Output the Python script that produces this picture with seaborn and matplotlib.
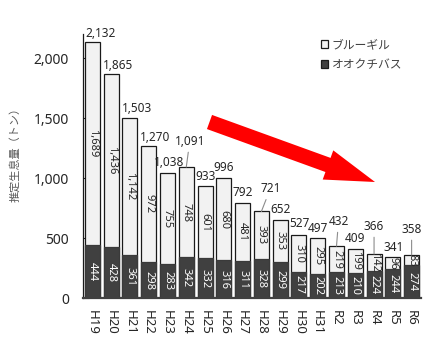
import matplotlib
matplotlib.use("Agg")
import matplotlib.pyplot as plt
import numpy as np
import pandas as pd
import seaborn as sns
from matplotlib.patches import Patch, FancyArrow
from matplotlib.ticker import FuncFormatter

# 年度
years = ["H19", "H20", "H21", "H22", "H23", "H24", "H25", "H26", "H27",
         "H28", "H29", "H30", "H31", "R2", "R3", "R4", "R5", "R6"]
# オオクチバス推定生息量（トン）
bass = [444, 428, 361, 298, 283, 342, 332, 316, 311,
        328, 299, 217, 202, 213, 210, 224, 244, 274]
# ブルーギル推定生息量（トン）
bluegill = [1689, 1436, 1142, 972, 755, 748, 601, 680, 481,
            393, 353, 310, 295, 219, 199, 142, 96, 83]
# 合計
totals = [2132, 1865, 1503, 1270, 1038, 1091, 933, 996, 792,
          721, 652, 527, 497, 432, 409, 366, 341, 358]

# 合計ラベルの位置（棒の上端からのずれ, px）と引き出し線の有無
label_offsets = [(8.5, 9), (6.5, 9), (7, 9), (6.5, 8), (2, 11), (3.5, 26),
                 (0.5, 10), (0, 11), (0, 10), (9, 23), (0, 10), (0, 11),
                 (0, 10), (2, 25), (0, 10), (0, 28), (1, 10), (0, 26)]
leaders = [False, False, False, False, False, True, False, False, False,
           True, False, False, False, True, False, True, False, True]

sns.set_style("white")
plt.rcParams["font.family"] = ["Noto Sans", "Noto Sans CJK JP", "DejaVu Sans"]

LIGHT = "#f2f2f2"
DARK = "#404040"
TXT = "#262626"

fig = plt.figure(figsize=(4.34, 3.4), dpi=100)
ax = fig.add_axes([83 / 434, 1 - 298 / 340, 338 / 434, 264 / 340])

df = pd.DataFrame({"year": years, "bass": bass,
                   "bluegill": bluegill, "total": totals})

sns.barplot(data=df, x="year", y="total", color=LIGHT, saturation=1,
            edgecolor="#1a1a1a", linewidth=0.9, width=0.8,
            errorbar=None, ax=ax)
sns.barplot(data=df, x="year", y="bass", color=DARK, saturation=1,
            edgecolor="#3a3a3a", linewidth=0.9, width=0.8,
            errorbar=None, ax=ax)

# 内訳ラベル
for i in range(len(years)):
    ax.text(i, bass[i] / 2, f"{bass[i]:,}", rotation=270, ha="center",
            va="center", fontsize=8, color="white")
    ax.text(i, bass[i] + bluegill[i] / 2, f"{bluegill[i]:,}", rotation=270,
            ha="center", va="center", fontsize=8, color=TXT)

# 合計ラベル
for i in range(len(years)):
    dx, dy = label_offsets[i]
    props = None
    if leaders[i]:
        props = dict(arrowstyle="-", color="#8c8c8c", lw=0.8,
                     shrinkA=1, shrinkB=0)
    ax.annotate(f"{totals[i]:,}", xy=(i, totals[i]), xytext=(dx, dy),
                textcoords="offset pixels", ha="center", va="center",
                fontsize=8.5, color=TXT, arrowprops=props)

ax.set_xlim(-0.5, 17.5)
ax.set_ylim(0, 2200)
ax.set_yticks([0, 500, 1000, 1500, 2000])
ax.yaxis.set_major_formatter(FuncFormatter(lambda v, p: f"{int(v):,}"))
ax.set_xlabel("")
ax.set_ylabel("")
ax.tick_params(axis="y", direction="in", length=4, width=0.8,
               labelsize=10, pad=10, colors=TXT, left=True)
ax.tick_params(axis="x", length=0, labelsize=9.5, pad=9, colors=TXT)
for lab in ax.get_xticklabels():
    lab.set_rotation(270)
    lab.set_va("top")
    lab.set_ha("center")

for s in ["top", "right"]:
    ax.spines[s].set_visible(False)
ax.spines["left"].set_color("#1a1a1a")
ax.spines["left"].set_linewidth(0.9)
ax.spines["bottom"].set_color("#404040")
ax.spines["bottom"].set_linewidth(1.6)

fig.text(15 / 434, 1 - 152 / 340, "推定生息量（トン）", rotation=90,
         ha="center", va="center", fontsize=8, color="#595959",
         family=["Noto Sans CJK JP"])

handles = [Patch(facecolor=LIGHT, edgecolor="#1a1a1a", linewidth=0.9),
           Patch(facecolor=DARK, edgecolor="#1a1a1a", linewidth=0.9)]
leg = fig.legend(handles, ["ブルーギル", "オオクチバス"],
                 loc="upper left", bbox_to_anchor=(313 / 434, 1 - 30 / 340),
                 frameon=False, handlelength=0.6,
                 handleheight=0.6, handletextpad=0.3, labelspacing=0.6,
                 borderpad=0.2, labelcolor="#404040",
                 prop={"family": ["Noto Sans CJK JP"], "size": 8.5})

# 減少傾向を示す矢印
arrow = FancyArrow(209.5 / 100, (340 - 122) / 100, 1.655, -0.60,
                   width=0.15, head_width=0.31, head_length=0.50,
                   length_includes_head=True, color="#ff0000", lw=0,
                   transform=fig.dpi_scale_trans)
fig.patches.append(arrow)

fig.savefig("out.png", dpi=100)
